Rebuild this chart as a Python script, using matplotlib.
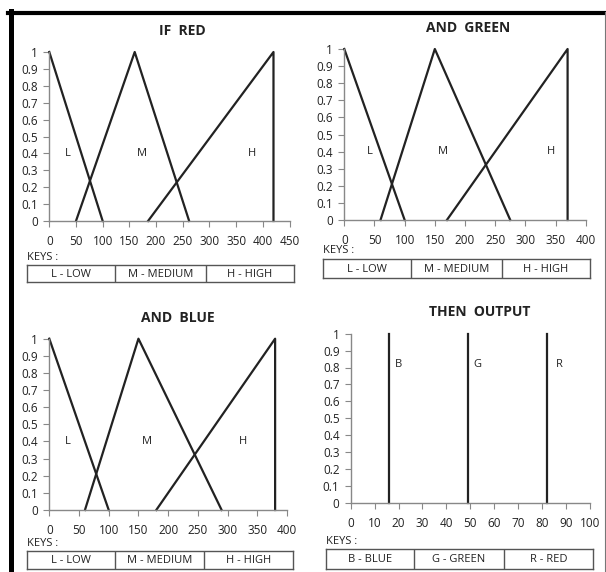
import matplotlib
matplotlib.use("Agg")
import matplotlib.pyplot as plt
from matplotlib.lines import Line2D

W, H = 606, 572

# membership functions, x points and y points
red_x = {"L": [0, 100], "M": [50, 160, 262], "H": [185, 420, 420]}
green_x = {"L": [0, 100], "M": [60, 150, 275], "H": [170, 370, 370]}
blue_x = {"L": [0, 100], "M": [60, 150, 290], "H": [180, 380, 380]}
ys = {"L": [1, 0], "M": [0, 1, 0], "H": [0, 1, 0]}
red_lbl = [35, 173, 380]
green_lbl = [42, 164, 343]
blue_lbl = [31, 164, 326]
out_x = [16, 49, 82]
out_lbl = ["B", "G", "R"]
out_lbl_x = [20, 53, 87]

rgb_keys = ["L - LOW", "M - MEDIUM", "H - HIGH"]
out_keys = ["B - BLUE", "G - GREEN", "R - RED"]

plt.rcParams['font.family'] = ['Open Sans', 'DejaVu Sans']
fig = plt.figure(figsize=(W / 100, H / 100), dpi=100)


def rect(x0, x1, ytop, ybot):
    return [x0 / W, 1 - ybot / H, (x1 - x0) / W, (ybot - ytop) / H]


def make_axes(x0, x1, ytop, ybot, xmax, step):
    ax = fig.add_axes(rect(x0, x1, ytop, ybot))
    ax.set_xlim(0, xmax)
    ax.set_ylim(0, 1)
    ax.set_xticks(range(0, xmax + 1, step))
    ax.set_yticks([i / 10 for i in range(11)])
    ax.set_yticklabels(["0"] + ["0.%d" % i for i in range(1, 10)] + ["1"])
    for s in ["top", "right"]:
        ax.spines[s].set_visible(False)
    for s in ["left", "bottom"]:
        ax.spines[s].set_color("#888888")
        ax.spines[s].set_linewidth(1)
    ax.tick_params(axis="both", direction="out", length=4, color="#888888",
                   labelsize=8.5, labelcolor="#222222")
    ax.tick_params(axis="x", pad=6)
    ax.tick_params(axis="y", pad=4)
    return ax


def keys_box(x0, x1, ytop, ybot, div1, div2, labels):
    fig.text(x0 / W, 1 - (ytop - 8) / H, "KEYS :", fontsize=8,
             ha="left", va="center", color="#222222")
    bx = fig.add_axes(rect(x0, x1, ytop, ybot))
    bx.set_xlim(x0, x1)
    bx.set_ylim(0, 1)
    bx.set_xticks([])
    bx.set_yticks([])
    for s in bx.spines.values():
        s.set_color("#555555")
        s.set_linewidth(1)
    edges = [x0, div1, div2, x1]
    for d in [div1, div2]:
        bx.axvline(d, color="#555555", lw=1)
    for i, lab in enumerate(labels):
        bx.text((edges[i] + edges[i + 1]) / 2, 0.45, lab, fontsize=8,
                ha="center", va="center", color="#222222")


def fuzzy_panel(ax, xs, lbl_x, title, tx, ty):
    for i, k in enumerate(["L", "M", "H"]):
        ax.plot(xs[k], ys[k], color="#222222", lw=1.6, clip_on=False)
        ax.text(lbl_x[i], 0.4, k, fontsize=8, ha="center", va="center",
                color="#222222")
    fig.text(tx / W, 1 - ty / H, title, fontsize=10, fontweight="bold",
             ha="center", va="center", color="#222222")


ax1 = make_axes(49.3, 289.5, 52, 221, 450, 50)
fuzzy_panel(ax1, red_x, red_lbl, "IF  RED", 182, 31)
keys_box(27, 294, 265, 282, 115, 206, rgb_keys)

ax2 = make_axes(344.3, 585.7, 49, 220, 400, 50)
fuzzy_panel(ax2, green_x, green_lbl, "AND  GREEN", 468, 28)
keys_box(323, 590, 259, 278, 411, 502, rgb_keys)

ax3 = make_axes(49.3, 287, 338.7, 510, 400, 50)
fuzzy_panel(ax3, blue_x, blue_lbl, "AND  BLUE", 178, 318)
keys_box(27, 293, 551, 569, 115, 204, rgb_keys)

ax4 = make_axes(350.7, 590, 333.7, 502.7, 100, 10)
for x, lab, lx in zip(out_x, out_lbl, out_lbl_x):
    ax4.plot([x, x], [0, 1], color="#222222", lw=1.6, clip_on=False)
    ax4.text(lx, 0.82, lab, fontsize=8, ha="center", va="center",
             color="#222222")
fig.text(480 / W, 1 - 312 / H, "THEN  OUTPUT", fontsize=10,
         fontweight="bold", ha="center", va="center", color="#222222")
keys_box(326, 593, 549, 569, 414, 504, out_keys)

# frame around the figure
fig.add_artist(Line2D([8 / W, 1], [1 - 12.5 / H, 1 - 12.5 / H], color="black",
                      lw=3, transform=fig.transFigure))
fig.add_artist(Line2D([10.5 / W, 10.5 / W], [0, 1 - 11 / H], color="black",
                      lw=3.6, transform=fig.transFigure))
fig.add_artist(Line2D([604.5 / W, 604.5 / W], [0, 1 - 12 / H], color="#777777",
                      lw=0.8, transform=fig.transFigure))

fig.savefig("out.png", dpi=100)
